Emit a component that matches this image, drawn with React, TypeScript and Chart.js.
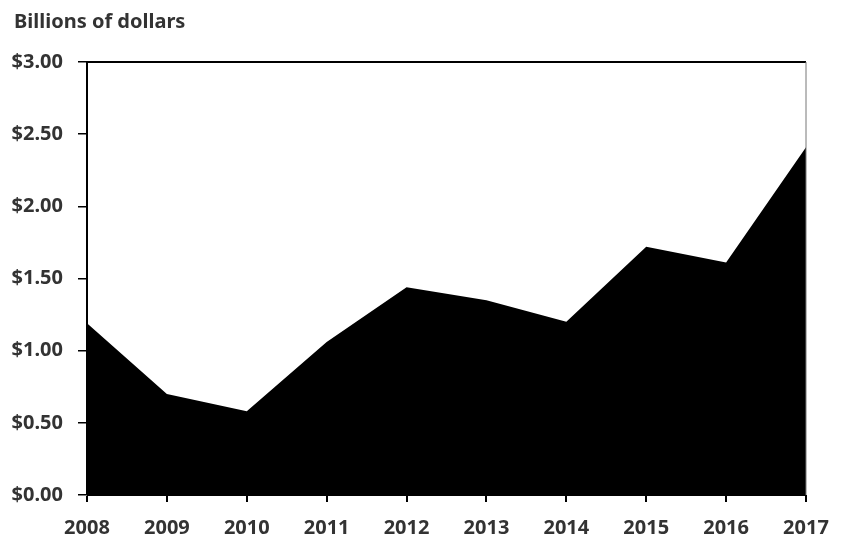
import React, { useEffect, useRef } from "react";
import { Chart, registerables } from "chart.js";

Chart.register(...registerables);

const years = ["2008", "2009", "2010", "2011", "2012", "2013", "2014", "2015", "2016", "2017"];
const values = [1.19, 0.7, 0.58, 1.06, 1.44, 1.35, 1.2, 1.72, 1.61, 2.41];
const titleText = "Billions of dollars";

const FONT = "'Noto Sans', sans-serif";
const TEXT = "#333333";

const framePlugin = {
  id: "frame",
  afterDatasetsDraw(chart: any) {
    const { ctx, chartArea } = chart;
    ctx.save();
    ctx.strokeStyle = "#000";
    ctx.lineWidth = 2;
    ctx.beginPath();
    ctx.moveTo(chartArea.left, chartArea.top);
    ctx.lineTo(chartArea.right, chartArea.top);
    ctx.stroke();
    ctx.strokeStyle = "#777";
    ctx.lineWidth = 1;
    ctx.beginPath();
    ctx.moveTo(chartArea.right, chartArea.top);
    ctx.lineTo(chartArea.right, chartArea.bottom);
    ctx.stroke();
    ctx.fillStyle = TEXT;
    ctx.font = "bold 20px " + FONT;
    ctx.textAlign = "left";
    ctx.textBaseline = "middle";
    ctx.fillText(titleText, 14, 22);
    ctx.restore();
  },
};

export default function App() {
  const ref = useRef<HTMLCanvasElement | null>(null);
  useEffect(() => {
    document.body.style.margin = "0";
    if (!ref.current) return;
    const chart = new Chart(ref.current, {
      type: "line",
      data: {
        labels: years,
        datasets: [
          {
            data: values,
            backgroundColor: "#000",
            borderColor: "#000",
            borderWidth: 0,
            fill: "origin",
            pointRadius: 0,
            tension: 0,
          },
        ],
      },
      options: {
        animation: false,
        responsive: false,
        devicePixelRatio: 1,
        layout: { padding: { left: 0, right: 35, top: 62, bottom: 0 } },
        plugins: {
          legend: { display: false },
          tooltip: { enabled: false },
          title: { display: false },
        },
        scales: {
          x: {
            type: "category",
            offset: false,
            afterFit: (scale: any) => {
              scale.height = 43;
              scale.paddingRight = 0;
              scale.paddingLeft = 0;
            },
            grid: { drawOnChartArea: false, drawTicks: true, tickLength: 7, color: "#000", lineWidth: 2 },
            border: { display: true, color: "#000", width: 1 },
            ticks: {
              color: TEXT,
              font: { family: FONT, size: 20, weight: "bold" },
              padding: 14,
              maxRotation: 0,
              autoSkip: false,
            },
          },
          y: {
            min: 0,
            max: 3,
            afterFit: (scale: any) => {
              scale.width = 87;
            },
            grid: { drawOnChartArea: false, drawTicks: true, tickLength: 9, color: "#000", lineWidth: 1.5 },
            border: { display: true, color: "#000", width: 2 },
            ticks: {
              stepSize: 0.5,
              color: TEXT,
              font: { family: FONT, size: 20, weight: "bold" },
              padding: 15,
              callback: (v: any) => "$" + Number(v).toFixed(2),
            },
          },
        },
      },
      plugins: [framePlugin],
    });
    return () => chart.destroy();
  }, []);
  return (
    <div style={{ width: 841, height: 538 }}>
      <canvas ref={ref} width={841} height={538} style={{ display: "block" }} />
    </div>
  );
}
